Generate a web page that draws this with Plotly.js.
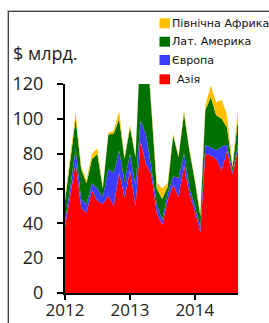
<!DOCTYPE html>
<html>
<head>
<meta charset="utf-8">
<script src="https://cdn.plot.ly/plotly-3.0.1.min.js"></script>
<style>
  html, body { margin: 0; padding: 0; background: #fff; }
  #frame { position: absolute; left: 8px; top: 11px; width: 400px; height: 400px;
           border-top: 1px solid #444; border-left: 1px solid #444;
           box-shadow: -1px -1px 0 #bbb; }
  #chart { position: absolute; left: 0; top: 0; width: 269px; height: 323px; }
</style>
</head>
<body>
<div id="frame"></div>
<div id="chart"></div>
<script>
// Months (Jan 2012 .. Sep 2014)
const months = [
  '2012-01-01','2012-02-01','2012-03-01','2012-04-01','2012-05-01','2012-06-01',
  '2012-07-01','2012-08-01','2012-09-01','2012-10-01','2012-11-01','2012-12-01',
  '2013-01-01','2013-02-01','2013-03-01','2013-04-01','2013-05-01','2013-06-01',
  '2013-07-01','2013-08-01','2013-09-01','2013-10-01','2013-11-01','2013-12-01',
  '2014-01-01','2014-02-01','2014-03-01','2014-04-01','2014-05-01','2014-06-01',
  '2014-07-01','2014-08-01','2014-09-01'
];
// Values, $ bn (stacked)
const asia = [38,57,75,49,46,59,53,51,56,50,69,55,70,50,87,74,68,46,39,53,62,55,73,57,47,35,80,79,77,70.5,81.5,68,83];
const europe = [2,5,8,5,5,4,7,4,15,19,13,9,10,12,12,17,4,5,3,4,5,11,7,4,3,3,5,4.5,5,13.5,3.5,1.5,2.5];
const latam = [13,15,17,17,12,14,20,5,20,22.5,18,13,15,16,44,59,34,9,12,4,23.5,12,23,21,14.5,6,20,29,20,16,10,2.5,14.5];
const nafrica = [2,3,4,1.5,2,3,3,1,1,1.5,4.5,1,1.5,1,2,2,2,3.5,6,2,1,1,2,1,1,1.5,3,6.5,7.5,11,7.5,1.5,5.5];

const seriesNames = ['Азія','Європа','Лат. Америка','Північна Африка'];
const seriesColors = ['#ff0000','#3c3cff','#007000','#ffc000'];
const seriesData = [asia, europe, latam, nafrica];

const yTickVals = [0,20,40,60,80,100,120];
const xTickVals = ['2012-01-01','2013-01-01','2014-01-01'];
const xTickText = ['2012','2013','2014'];
const yAxisLabel = '$ млрд.';

const W = 269, H = 323;
const L = 65, R = 31, T = 84, B = 30;
const PW = W - L - R, PH = H - T - B;
const px2x = px => (px - L) / PW;
const px2y = py => (H - B - py) / PH;

const traces = seriesData.map((vals, k) => ({
  type: 'scatter',
  x: months,
  y: vals,
  name: seriesNames[k],
  stackgroup: 'one',
  mode: 'none',
  fillcolor: seriesColors[k],
  line: { width: 0, color: seriesColors[k] },
  showlegend: false,
  hoverinfo: 'skip'
}));

// Manual legend (top-down: reversed trace order)
const shapes = [];
const annotations = [];
const rowY = [23.3, 41.7, 60, 79.3];
const order = [3, 2, 1, 0];
order.forEach((k, r) => {
  const cy = rowY[r];
  shapes.push({
    type: 'rect', xref: 'paper', yref: 'paper',
    x0: px2x(159.5), x1: px2x(170), y0: px2y(cy + 5), y1: px2y(cy - 5),
    fillcolor: seriesColors[k], line: { width: 0 }
  });
  annotations.push({
    xref: 'paper', yref: 'paper',
    x: px2x(k === 0 ? 176 : 171), y: px2y(cy),
    xanchor: 'left', yanchor: 'middle', showarrow: false,
    borderpad: 0,
    text: seriesNames[k],
    font: { family: 'DejaVu Sans', size: 11.1, color: '#111' }
  });
});
annotations.push({
  xref: 'paper', yref: 'paper',
  x: px2x(11), y: px2y(53),
  xanchor: 'left', yanchor: 'middle', showarrow: false,
  text: yAxisLabel,
  font: { family: 'Open Sans', size: 18, color: '#222' }
});

const layout = {
  width: W, height: H,
  margin: { l: L, r: R, t: T, b: B, pad: 0 },
  paper_bgcolor: 'rgba(0,0,0,0)',
  plot_bgcolor: '#fff',
  showlegend: false,
  xaxis: {
    type: 'date',
    range: ['2012-01-01', '2014-09-01'],
    tickmode: 'array', tickvals: xTickVals, ticktext: xTickText,
    ticks: 'outside', ticklen: 5, tickwidth: 2, tickcolor: '#000',
    ticklabelstandoff: -4,
    showline: true, linecolor: '#000', linewidth: 2,
    showgrid: false, zeroline: false,
    tickfont: { family: 'Open Sans', size: 17, color: '#222' }
  },
  yaxis: {
    range: [0, 120],
    tickmode: 'array', tickvals: yTickVals,
    ticks: 'outside', ticklen: 6, tickwidth: 2, tickcolor: '#000',
    ticklabelstandoff: 10,
    showline: true, linecolor: '#000', linewidth: 2,
    showgrid: false, zeroline: false,
    tickfont: { family: 'Open Sans', size: 18, color: '#222' }
  },
  shapes: shapes,
  annotations: annotations
};

Plotly.newPlot('chart', traces, layout, { staticPlot: true, displayModeBar: false });
</script>
</body>
</html>
